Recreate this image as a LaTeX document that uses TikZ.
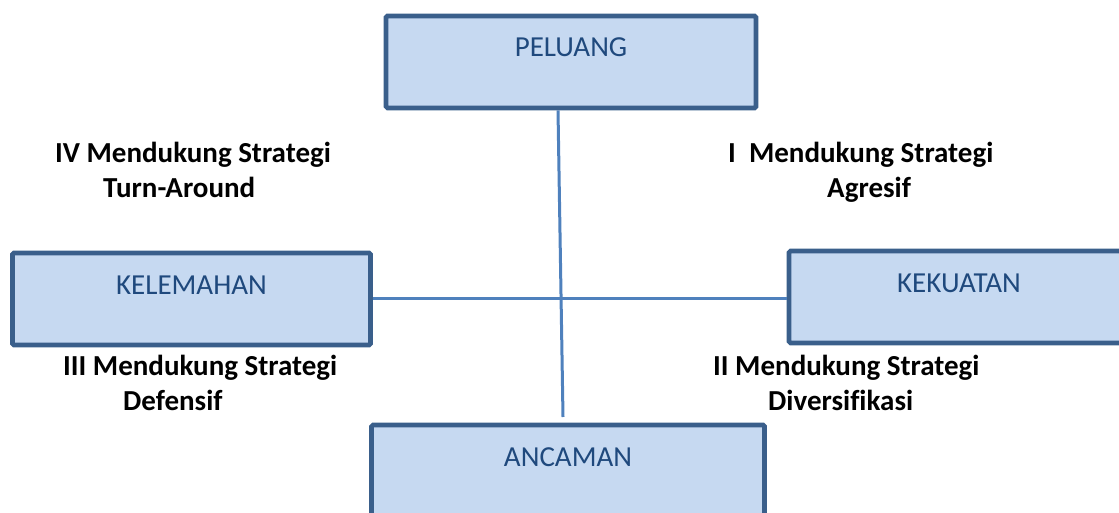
\documentclass[tikz,border=0pt]{standalone}
\usepackage{fontspec}
\setmainfont{Carlito}[Ligatures=CommonOff]
\definecolor{garisbiru}{HTML}{4F81BD}
\definecolor{tepikotak}{HTML}{3A5F8B}
\definecolor{isikotak}{HTML}{C6D9F1}
\definecolor{tulisan}{HTML}{1F497D}
\begin{document}
\begin{tikzpicture}[x=1pt,y=-1pt,
		kotak/.style={draw=tepikotak,fill=isikotak,line width=4.6pt,rounded corners=1.5pt,
			inner sep=0pt,text height=41pt,text depth=51pt,text=tulisan,
			font=\fontsize{29}{31}\selectfont},
		strategi/.style={align=left,inner sep=0pt,anchor=base west,
			font=\fontsize{29}{35}\selectfont\bfseries},
		garis/.style={draw=garisbiru,line width=3pt}]
				\useasboundingbox (0,0) rectangle (1119,513);
				% kotak SWOT
				\node[kotak,minimum width=370pt] (peluang) at (571,62) {PELUANG};
				\node[kotak,minimum width=358pt] (kelemahan) at (191.5,299) {KELEMAHAN};
				\node[kotak,minimum width=340pt] (kekuatan) at (959,297) {KEKUATAN};
				\node[kotak,minimum width=393pt] (ancaman) at (568,471) {ANCAMAN};
				\coordinate (ujung) at (563,417);
				% sumbu
				\draw[garis] ([xshift=-13pt]peluang.south) -- (ujung);
				\draw[garis] ([yshift=0.5pt]kelemahan.east) -- ([yshift=0.5pt]kelemahan.east -| kekuatan.west);
				% kuadran (base = baris terakhir)
				\node[strategi] (kuadranIV) at (55,198) {IV Mendukung Strategi\\\hspace*{48pt}Turn-Around};
				\node[strategi] (kuadranI) at (728,198) {I\ \ Mendukung Strategi\\\hspace*{99pt}Agresif};
				\node[strategi] (kuadranIII) at (63,410) {III Mendukung Strategi\\\hspace*{60pt}Defensif};
				\node[strategi] (kuadranII) at (713,410) {II Mendukung Strategi\\\hspace*{55pt}Diversifikasi};
		\end{tikzpicture}
\end{document}
